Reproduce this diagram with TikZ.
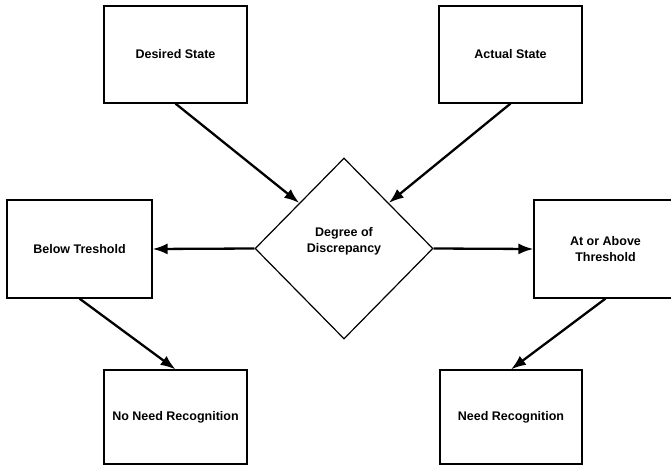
\documentclass[tikz,border=0pt]{standalone}
\usepackage{fontspec}
\setmainfont{Liberation Sans}
\usetikzlibrary{shapes.geometric,arrows.meta}
\begin{document}
\begin{tikzpicture}[x=1pt,y=-1pt,
  box/.style={draw=black,line width=1.2pt,inner sep=0pt,font=\fontsize{12.5}{16}\selectfont\bfseries,align=center},
  dia/.style={draw=black,line width=1.2pt,shape=diamond,inner sep=0pt,minimum width=178pt,minimum height=181pt},
  lbl/.style={font=\fontsize{12.5}{16}\selectfont\bfseries,align=center,inner sep=0pt},
  arr/.style={line width=2.3pt,-{Latex[length=15pt,width=11pt]}}]
\useasboundingbox (0,0) rectangle (671,465);
\clip (0,0) rectangle (671,465);
\fill[white] (0,0) rectangle (671,465);
\node[box,minimum width=143pt,minimum height=97pt] (ds) at (175.5,54.5) {Desired State};
\node[box,minimum width=143pt,minimum height=97pt] (as) at (510.5,54.5) {Actual State};
\node[dia] (dd) at (344,248.5) {};
\node[lbl] (ddt) at (344,241) {Degree of\\Discrepancy};
\node[box,minimum width=145pt,minimum height=98pt] (bt) at (79.5,249) {Below Treshold};
\node[box,minimum width=143pt,minimum height=98pt] (ab) at (605.5,249) {At or Above\\Threshold};
\node[box,minimum width=143pt,minimum height=94pt] (nn) at (175.5,417) {No Need Recognition};
\node[box,minimum width=142pt,minimum height=94pt] (nr) at (511,417) {Need Recognition};
\draw[arr] (ds.south) -- (dd.north west);
\draw[arr] (as.south) -- (dd.north east);
\draw[arr] (dd.west) -- (bt.east);
\draw[arr] (dd.east) -- (ab.west);
\draw[arr] (bt.south) -- (nn.north);
\draw[arr] (ab.south) -- (nr.north);
\end{tikzpicture}
\end{document}
